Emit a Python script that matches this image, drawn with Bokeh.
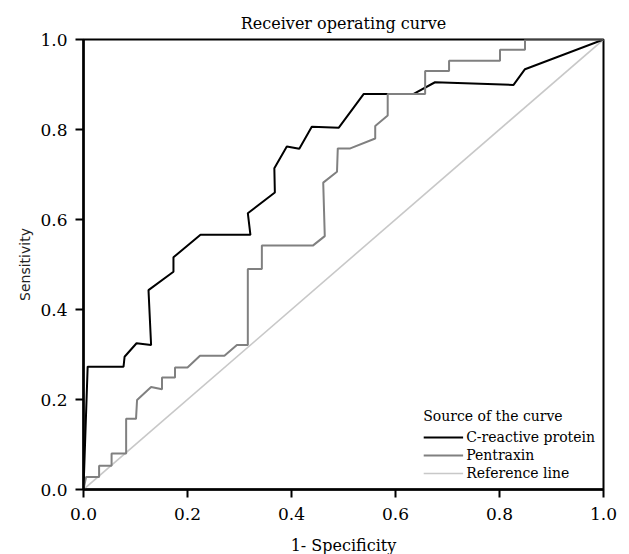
from bokeh.plotting import figure
from bokeh.models import Range1d, FixedTicker, Legend, LegendItem, NumeralTickFormatter
from bokeh.embed import file_html
from bokeh.resources import INLINE

# C-reactive protein ROC curve
crp_fpr = [0.0, 0.008, 0.077, 0.079, 0.102, 0.130, 0.125, 0.173, 0.173, 0.225, 0.321,
           0.316, 0.368, 0.367, 0.391, 0.415, 0.439, 0.491, 0.539, 0.635, 0.676,
           0.827, 0.849, 1.0]
crp_tpr = [0.0, 0.273, 0.273, 0.295, 0.325, 0.321, 0.443, 0.484, 0.516, 0.566, 0.566,
           0.614, 0.660, 0.714, 0.762, 0.757, 0.806, 0.804, 0.879, 0.879, 0.905,
           0.899, 0.934, 1.0]

# Pentraxin ROC curve
ptx_fpr = [0.0, 0.005, 0.030, 0.030, 0.054, 0.054, 0.082, 0.082, 0.101, 0.103, 0.130,
           0.151, 0.151, 0.176, 0.176, 0.200, 0.224, 0.271, 0.295, 0.316, 0.316,
           0.343, 0.343, 0.441, 0.464, 0.461, 0.4875, 0.489, 0.513, 0.561, 0.561,
           0.585, 0.585, 0.657, 0.657, 0.703, 0.703, 0.801, 0.801, 0.849, 0.849, 1.0]
ptx_tpr = [0.0, 0.028, 0.028, 0.053, 0.053, 0.080, 0.080, 0.157, 0.157, 0.199, 0.228,
           0.223, 0.249, 0.249, 0.271, 0.271, 0.297, 0.297, 0.321, 0.321, 0.490,
           0.490, 0.542, 0.542, 0.563, 0.682, 0.706, 0.758, 0.758, 0.780, 0.808,
           0.831, 0.879, 0.879, 0.930, 0.930, 0.953, 0.953, 0.977, 0.977, 1.0, 1.0]

ref_x = [0.0, 1.0]
ref_y = [0.0, 1.0]

ticks = [0.0, 0.2, 0.4, 0.6, 0.8, 1.0]
series_names = ["C-reactive protein", "Pentraxin", "Reference line"]

SERIF = "DejaVu Serif"

p = figure(frame_width=520, frame_height=450,
           x_range=Range1d(0, 1), y_range=Range1d(0, 1),
           output_backend="svg", toolbar_location=None,
           min_border_left=83, min_border_right=20, min_border_top=39, min_border_bottom=60,
           title="Receiver operating curve")

p.title.align = "center"
p.title.text_font = SERIF
p.title.text_font_size = "16px"
p.title.text_font_style = "normal"
p.title.text_color = "black"
p.title.standoff = 14

p.xgrid.visible = False
p.ygrid.visible = False
p.outline_line_color = "black"
p.outline_line_width = 2
p.outline_line_alpha = 1.0

for ax in (p.xaxis[0], p.yaxis[0]):
    ax.ticker = FixedTicker(ticks=ticks)
    ax.formatter = NumeralTickFormatter(format="0.0")
    ax.axis_line_width = 2.5
    ax.axis_line_color = "black"
    ax.major_tick_line_width = 2
    ax.major_tick_line_color = "black"
    ax.major_tick_out = 8
    ax.major_tick_in = 0
    ax.minor_tick_line_color = None
    ax.major_label_text_font = SERIF
    ax.major_label_text_font_size = "17px"
    ax.major_label_text_color = "black"
    ax.axis_label_text_color = "black"

p.xaxis.major_label_standoff = 10
p.yaxis.major_label_standoff = 8

p.xaxis.axis_label = "1- Specificity"
p.xaxis.axis_label_text_font = SERIF
p.xaxis.axis_label_text_font_size = "16px"
p.xaxis.axis_label_text_font_style = "normal"
p.xaxis.axis_label_standoff = 13

p.yaxis.axis_label = "Sensitivity"
p.yaxis.axis_label_text_font = "DejaVu Sans"
p.yaxis.axis_label_text_font_size = "14px"
p.yaxis.axis_label_text_font_style = "normal"
p.yaxis.axis_label_text_color = "#222222"
p.yaxis.axis_label_standoff = 4

r_ref = p.line(ref_x, ref_y, line_color="#c8c8c8", line_width=1.6)
r_crp = p.line(crp_fpr, crp_tpr, line_color="black", line_width=2)
r_ptx = p.line(ptx_fpr, ptx_tpr, line_color="#808080", line_width=2)

legend = Legend(items=[LegendItem(label=series_names[0], renderers=[r_crp]),
                       LegendItem(label=series_names[1], renderers=[r_ptx]),
                       LegendItem(label=series_names[2], renderers=[r_ref])],
                location="bottom_right", title="Source of the curve")
legend.title_text_font = SERIF
legend.title_text_font_size = "14px"
legend.title_text_font_style = "normal"
legend.title_text_color = "black"
legend.title_standoff = 5
legend.label_text_font = SERIF
legend.label_text_font_size = "14px"
legend.label_text_color = "black"
legend.label_height = 16
legend.glyph_height = 16
legend.glyph_width = 40
legend.label_standoff = 3
legend.spacing = 2
legend.padding = 2
legend.margin = 8
legend.border_line_color = None
legend.background_fill_alpha = 0
p.add_layout(legend)

open("out.html", "w").write(file_html(p, INLINE))
